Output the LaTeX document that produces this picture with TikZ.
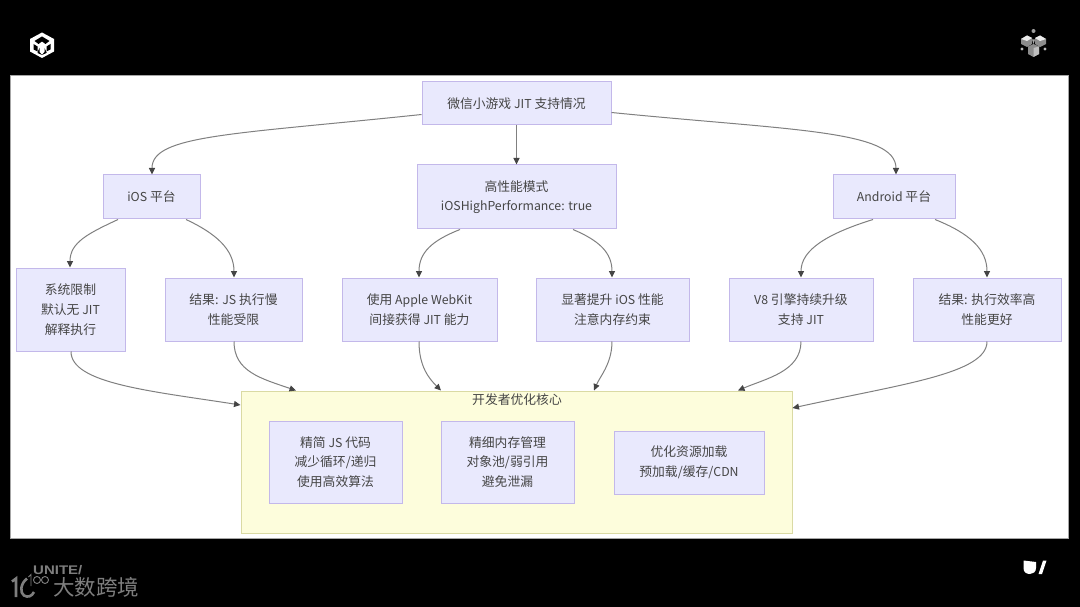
\documentclass[tikz,border=0pt]{standalone}
\usepackage{fontspec}
\setmainfont{Noto Sans CJK SC}
\newfontfamily\unitef{Liberation Sans}
\usetikzlibrary{arrows.meta,calc}
\definecolor{nodefill}{HTML}{E9E9FD}
\definecolor{nodeline}{HTML}{C3B8EA}
\definecolor{yfill}{HTML}{FDFDDC}
\definecolor{yline}{HTML}{DADAA4}
\definecolor{ink}{HTML}{454545}
\definecolor{edge}{HTML}{808080}
\definecolor{wm}{HTML}{7E7E7E}
\tikzset{
  px/.style={x=1pt,y=-1pt},
  boxn/.style={draw=nodeline,fill=nodefill,line width=1pt,inner sep=0pt,align=center,text=ink,font=\fontsize{12.8}{19.7}\selectfont},
  conn/.style={draw=edge,line width=1pt,-{Triangle[length=6.5pt,width=6pt,color=ink,fill=ink]}},
}
\newcommand{\lat}[1]{{\fontsize{12.3}{19.7}\selectfont #1}}
\newcommand{\bx}[6]{\node[boxn,minimum width=#4pt-#2pt,minimum height=#5pt-#3pt] (#1) at ({(#2+#4)/2},{(#3+#5)/2}) {#6};}
\begin{document}
\begin{tikzpicture}[px]
\useasboundingbox (0,0) rectangle (1080,607);
\fill[black] (0,0) rectangle (1080,607);
\fill[white] (10.5,75.5) rectangle (1068,538);
\draw[gray!70,line width=.6pt] (10.5,75.5) rectangle (1068,538);
% yellow panel
\node[draw=yline,fill=yfill,line width=1pt,minimum width=551pt,minimum height=142pt,inner sep=0pt] (core) at (516.5,462) {};
\node[text=ink,font=\fontsize{12.8}{14}\selectfont,inner sep=0pt] (coret) at (517,400) {开发者优化核心};
% nodes
\bx{top}{422}{82}{611}{125}{微信小游戏 \lat{JIT} 支持情况}
\bx{ios}{103}{175}{200}{219}{\lat{iOS} 平台}
\bx{high}{417}{165}{616}{229}{高性能模式\\\lat{iOSHighPerformance: true}}
\bx{andr}{833}{175}{955}{219}{\lat{Android} 平台}
\bx{lim}{16}{268}{125}{351}{系统限制\\默认无 \lat{JIT}\\解释执行}
\bx{res}{165}{278}{302}{341}{结果: \lat{JS} 执行慢\\性能受限}
\bx{apple}{342}{278}{497}{341}{使用 \lat{Apple WebKit}\\间接获得 \lat{JIT} 能力}
\bx{up}{536}{278}{689}{341}{显著提升 \lat{iOS} 性能\\注意内存约束}
\bx{veight}{729}{278}{873}{341}{\lat{V8} 引擎持续升级\\支持 \lat{JIT}}
\bx{eff}{913}{278}{1061}{341}{结果: 执行效率高\\性能更好}
\bx{js}{269}{421}{402}{503}{精简 \lat{JS} 代码\\减少循环/递归\\使用高效算法}
\bx{mem}{441}{421}{574}{503}{精细内存管理\\对象池/弱引用\\避免泄漏}
\bx{load}{614}{431}{764}{494}{优化资源加载\\预加载/缓存/\lat{CDN}}
% connectors
\draw[conn] ([yshift=-11pt]top.west) .. controls +(-190,20) and (152,135) .. ([xshift=.5pt]ios.north);
\draw[conn] (top.south) -- (high.north);
\draw[conn] ([yshift=-9pt]top.east) .. controls +(180,18) and (896,130) .. ([xshift=2pt]andr.north);
\draw[conn] ([xshift=-33.5pt]ios.south) .. controls +(-30,14) and +(0,-25) .. ([xshift=-.5pt]lim.north);
\draw[conn] ([xshift=34.5pt]ios.south) .. controls +(30,14) and +(0,-28) .. ([xshift=.5pt]res.north);
\draw[conn] ([xshift=-56.5pt]high.south) .. controls +(-28,11) and +(0,-25) .. ([xshift=-.5pt]apple.north);
\draw[conn] ([xshift=56.5pt]high.south) .. controls +(26,11) and +(0,-25) .. ([xshift=-.5pt]up.north);
\draw[conn] ([xshift=-21pt]andr.south) .. controls +(-45,14) and +(0,-28) .. (veight.north);
\draw[conn] ([xshift=41pt]andr.south) .. controls +(35,14) and +(0,-28) .. (eff.north);
\draw[conn] ([xshift=.5pt]lim.south) .. controls +(0,32) and +(-90,-14) .. ([yshift=57pt]core.west);
\draw[conn] ([xshift=.5pt]res.south) .. controls +(0,30) and +(-35,-12) .. ([xshift=-220.5pt]core.north);
\draw[conn] ([xshift=-.5pt]apple.south) .. controls +(0,25) and +(-12,-12) .. ([xshift=-75.5pt]core.north);
\draw[conn] ([xshift=-.5pt]up.south) .. controls +(0,22) and +(6,-14) .. ([xshift=77.5pt]core.north);
\draw[conn] (veight.south) .. controls +(0,30) and +(28,-12) .. ([xshift=221.5pt]core.north);
\draw[conn] (eff.south) .. controls +(0,32) and +(110,-24) .. ([yshift=54pt]core.east);
% Unity logo top left
\fill[white] (42,32.5) -- (54,39) -- (54,51.5) -- (42,58) -- (30,51.5) -- (30,39) -- cycle;
\fill[black] (42,36.5) -- (49.5,41) -- (45.5,44) -- (42,41.5) -- (38.5,44) -- (34.5,41) -- cycle;
\fill[black] (33.5,44) -- (37.5,46.5) -- (37.5,51.5) -- (33.5,49.5) -- cycle;
\fill[black] (50.5,44) -- (46.5,46.5) -- (46.5,51.5) -- (50.5,49.5) -- cycle;
\fill[black] (37.5,52.2) -- (39.5,48) -- (39.5,52) -- (42,55) -- (37.5,53) -- cycle;
\fill[black] (46.5,52.2) -- (44.5,48) -- (44.5,52) -- (42,55) -- (46.5,53) -- cycle;
% cube icon top right
\fill[gray!75] (1033.5,31) circle (2pt);
\fill[gray!90!white] (1021,39) -- (1027,35.5) -- (1032,38) -- (1032,44) -- (1027,47) -- (1021,44) -- cycle;
\fill[white!92!black] (1021,39) -- (1027,35.5) -- (1032,38) -- (1027,41) -- cycle;
\fill[gray!90!white] (1035,38) -- (1040,35.5) -- (1046,39) -- (1046,44) -- (1040,47) -- (1035,44) -- cycle;
\fill[white!92!black] (1035,38) -- (1040,35.5) -- (1046,39) -- (1040,41) -- cycle;
\fill[gray!90] (1028,46.5) -- (1033.5,44) -- (1039,46.5) -- (1039,54) -- (1033.5,57) -- (1028,54) -- cycle;
\fill[white!75!black] (1033.5,48) -- (1039,46.5) -- (1039,54) -- (1033.5,57) -- cycle;
\fill[gray!70] (1033.5,44) -- (1032,39.5) -- (1035,39.5) -- cycle;
\fill[gray!55] (1022,49) circle (1.6pt) (1045,49) circle (1.6pt);
% U/ mark bottom right
\fill[white] (1023.5,560.5) -- (1036,562) -- (1036,568) .. controls (1036,572) and (1033,574) .. (1030,574) .. controls (1026,574) and (1023.5,572) .. (1023.5,568) -- cycle;
\fill[white] (1043,560.5) -- (1046.5,560.5) -- (1042,574) -- (1038.5,574) -- cycle;
% watermark
\node[text=wm,font=\unitef\bfseries\fontsize{12.5}{12}\selectfont,inner sep=0pt,anchor=west,xscale=1.2,yscale=-1] (unite) at (33,570) {\scalebox{1}[-1]{UNITE/}};
\node[text=wm,font=\fontsize{21.5}{22}\selectfont,inner sep=0pt,anchor=west] (dsk) at (53,587.5) {大数跨境};
\draw[wm,line width=2.6pt] (12,581.5) -- (16,578.5) -- (16,597);
\draw[wm,line width=2.6pt] (27,578.5) .. controls (20,584) and (20,593) .. (24,595.5) .. controls (28,598) and (32,596) .. (34,592);
\draw[wm,line width=.9pt] (28.5,577) -- (31,574.5) -- (31,586) (37,580) circle (3.5pt) (45,580) circle (3.5pt);
\end{tikzpicture}
\end{document}
